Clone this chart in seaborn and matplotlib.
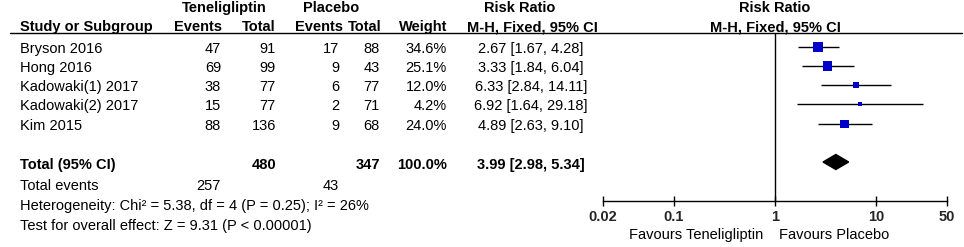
import matplotlib
matplotlib.use("Agg")
import matplotlib.pyplot as plt
import seaborn as sns
import numpy as np
import pandas as pd

# ---- data ----
studies = ["Bryson 2016", "Hong 2016", "Kadowaki(1) 2017", "Kadowaki(2) 2017", "Kim 2015"]
ten_events = [47, 69, 38, 15, 88]
ten_total = [91, 99, 77, 77, 136]
pl_events = [17, 9, 6, 2, 9]
pl_total = [88, 43, 77, 71, 68]
weights = [34.6, 25.1, 12.0, 4.2, 24.0]
rr = [2.67, 3.33, 6.33, 6.92, 4.89]
rr_lo = [1.67, 1.84, 2.84, 1.64, 2.63]
rr_hi = [4.28, 6.04, 14.11, 29.18, 9.10]
total_rr = [3.99, 2.98, 5.34]
total_n = [480, 347]
total_events = [257, 43]
x_ticks = [0.02, 0.1, 1, 10, 50]
x_ticklabels = ["0.02", "0.1", "1", "10", "50"]

sns.set_theme(style="white")
plt.rcParams["font.family"] = ["Liberation Sans", "DejaVu Sans"]

W, H = 964, 247
fig = plt.figure(figsize=(W / 100, H / 100), dpi=100)

# text layer in pixel coordinates
tx = fig.add_axes([0, 0, 1, 1])
tx.set_xlim(0, W)
tx.set_ylim(H, 0)
tx.axis("off")

FS = 10.5
row_y = [47, 66, 85, 104, 124]
text_off = 2

def t(x, y, s, ha="left", bold=False, **kw):
    tx.text(x, y, s, ha=ha, va="center", fontsize=FS,
            fontweight="bold" if bold else "normal", color="black", **kw)

# headers
t(224, 8, "Teneligliptin", ha="center", bold=True)
t(331, 8, "Placebo", ha="center", bold=True)
t(520, 8, "Risk Ratio", ha="center", bold=True)
t(775, 8, "Risk Ratio", ha="center", bold=True)
t(20, 27, "Study or Subgroup", bold=True)
t(222, 27, "Events", ha="right", bold=True)
t(276, 27, "Total", ha="right", bold=True)
t(343, 27, "Events", ha="right", bold=True)
t(381, 27, "Total", ha="right", bold=True)
t(447, 27, "Weight", ha="right", bold=True)
t(532, 27, "M-H, Fixed, 95% CI", ha="center", bold=True)
t(775, 27, "M-H, Fixed, 95% CI", ha="center", bold=True)
tx.plot([10, 962], [33.5, 33.5], color="black", lw=1.0)

for i, name in enumerate(studies):
    y = row_y[i] + text_off
    t(20, y, name)
    t(221, y, str(ten_events[i]), ha="right")
    t(276, y, str(ten_total[i]), ha="right")
    t(339, y, str(pl_events[i]), ha="right")
    t(380, y, str(pl_total[i]), ha="right")
    t(447, y, f"{weights[i]:.1f}%", ha="right")
    t(531, y, f"{rr[i]:.2f} [{rr_lo[i]:.2f}, {rr_hi[i]:.2f}]", ha="center")

yt = 162 + 3
t(20, yt, "Total (95% CI)", bold=True)
t(276, yt, str(total_n[0]), ha="right", bold=True)
t(380, yt, str(total_n[1]), ha="right", bold=True)
t(447, yt, "100.0%", ha="right", bold=True)
t(531, yt, f"{total_rr[0]:.2f} [{total_rr[1]:.2f}, {total_rr[2]:.2f}]", ha="center", bold=True)
t(20, 186, "Total events")
t(221, 186, str(total_events[0]), ha="right")
t(339, 186, str(total_events[1]), ha="right")
t(20, 206, "Heterogeneity: Chi\u00b2 = 5.38, df = 4 (P = 0.25); I\u00b2 = 26%")
t(20, 226, "Test for overall effect: Z = 9.31 (P < 0.00001)")
t(763, 235, "Favours Teneligliptin", ha="right")
t(779, 235, "Favours Placebo", ha="left")

# forest axes
x0, x1 = 603, 947
ytop, ybot = 33.5, 201
ax = fig.add_axes([x0 / W, 1 - ybot / H, (x1 - x0) / W, (ybot - ytop) / H])
ax.set_xscale("log")
ax.set_xlim(0.02, 50)
ax.set_ylim(ybot, ytop)
ax.patch.set_alpha(0)
for s in ["top", "right", "left"]:
    ax.spines[s].set_visible(False)
ax.spines["bottom"].set_color("black")
ax.spines["bottom"].set_linewidth(1.0)
ax.set_yticks([])
ax.set_xticks(x_ticks)
ax.set_xticklabels(x_ticklabels, fontsize=FS, fontweight="bold")
ax.xaxis.set_minor_locator(matplotlib.ticker.NullLocator())
ax.tick_params(axis="x", direction="inout", length=7, width=1.0, color="black", pad=3, bottom=True)
ax.axvline(1, color="black", lw=1.0, zorder=1)

ax.hlines(row_y, rr_lo, rr_hi, color="black", lw=1.0, zorder=2)
df = pd.DataFrame({"rr": rr, "y": row_y, "w": weights})
sns.scatterplot(data=df, x="rr", y="y", size="w", sizes=(0, 58), size_norm=(0, 34.6),
                marker="s", color="#0000C8", edgecolor="none", legend=False, ax=ax, zorder=3)
ax.set_xlabel("")
ax.set_ylabel("")
dy = 7.5
yd = 162
ax.fill([total_rr[1], total_rr[0], total_rr[2], total_rr[0]],
        [yd, yd - dy, yd, yd + dy], color="black", zorder=3)
ax.set_ylim(ybot, ytop)

fig.savefig("out.png", dpi=100)
